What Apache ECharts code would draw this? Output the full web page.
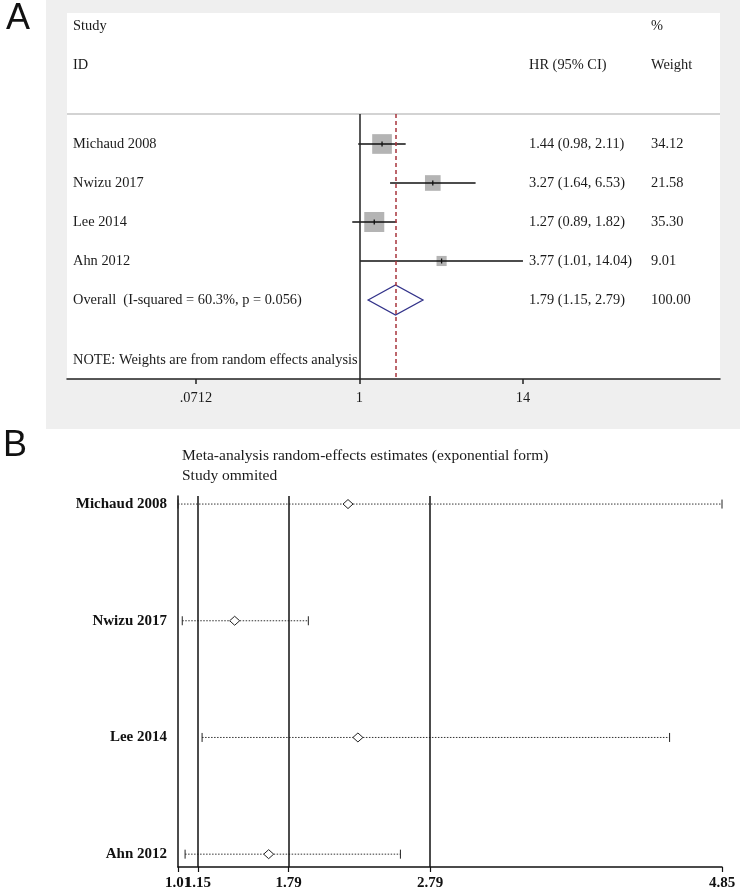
<!DOCTYPE html>
<html><head><meta charset="utf-8">
<script src="https://cdn.jsdelivr.net/npm/echarts@6/dist/echarts.min.js"></script>
<style>html,body{margin:0;padding:0;background:#fff}#c{width:740px;height:893px}</style>
</head><body><div id="c"></div>
<script>
// ---------- Panel A data ----------
const studiesA = ['Michaud 2008', 'Nwizu 2017', 'Lee 2014', 'Ahn 2012'];
const hrA = [1.44, 3.27, 1.27, 3.77];
const loA = [0.98, 1.64, 0.89, 1.01];
const hiA = [2.11, 6.53, 1.82, 14.04];
const weightA = [34.12, 21.58, 35.30, 9.01];
const overallLabelA = 'Overall  (I-squared = 60.3%, p = 0.056)';
const overallA = [1.79, 1.15, 2.79]; // HR, lo, hi
const overallWeightA = 100.00;
const ticksA = [0.0712, 1, 14.04];
const tickLabelsA = ['.0712', '1', '14'];

// ---------- Panel B data ----------
const studiesB = ['Michaud 2008', 'Nwizu 2017', 'Lee 2014', 'Ahn 2012'];
const estB = [2.21, 1.41, 2.28, 1.65];
const loB = [1.01, 1.04, 1.18, 1.06];
const hiB = [4.85, 1.93, 4.48, 2.58];
const refLinesB = [1.15, 1.79, 2.79];
const ticksB = [1.01, 1.15, 1.79, 2.79, 4.85];

const SERIF = '"Liberation Serif", "Times New Roman", serif';
const fontA = '14.4px ' + SERIF;
const txtCol = '#1a1a1a';

// rows for panel A: studies at 1..4, overall at 5
const dataA = studiesA.map((s, i) => [i + 1, hrA[i], loA[i], hiA[i], weightA[i], 0]);
dataA.push([studiesA.length + 1, overallA[0], overallA[1], overallA[2], overallWeightA, 1]);
const namesA = studiesA.concat([overallLabelA]);

const dataB = studiesB.map((s, i) => [i + 1, estB[i], loB[i], hiB[i]]);

// tick labels of panel B: the crowded second label goes on its own overlay axis
const labelsB1 = ticksB.filter((t, i) => i !== 1);
const labelsB2 = [ticksB[1]];

const labelStyleB = {color: '#111', fontFamily: SERIF, fontSize: 15, fontWeight: 'bold'};

const chart = echarts.init(document.getElementById('c'), null, {renderer: 'canvas'});

const option = {
  animation: false,
  backgroundColor: '#ffffff',
  graphic: [
    {type: 'rect', z: -10, shape: {x: 46, y: 0, width: 694, height: 429}, style: {fill: '#efefef'}},
    {type: 'rect', z: -9, shape: {x: 67, y: 13, width: 653, height: 366}, style: {fill: '#ffffff'}},
    {type: 'line', z: -8, shape: {x1: 67, y1: 114, x2: 720, y2: 114}, style: {stroke: '#c4c4c4', lineWidth: 1.5}},
    {type: 'text', x: 6, y: 19, style: {text: 'A', font: '36px "Liberation Sans", Arial, sans-serif', fill: '#111', verticalAlign: 'middle'}},
    {type: 'text', x: 3, y: 446, style: {text: 'B', font: '36px "Liberation Sans", Arial, sans-serif', fill: '#111', verticalAlign: 'middle'}},
    {type: 'text', x: 73, y: 26, style: {text: 'Study', font: fontA, fill: txtCol, verticalAlign: 'middle'}},
    {type: 'text', x: 73, y: 65, style: {text: 'ID', font: fontA, fill: txtCol, verticalAlign: 'middle'}},
    {type: 'text', x: 651, y: 26, style: {text: '%', font: fontA, fill: txtCol, verticalAlign: 'middle'}},
    {type: 'text', x: 529, y: 65, style: {text: 'HR (95% CI)', font: fontA, fill: txtCol, verticalAlign: 'middle'}},
    {type: 'text', x: 651, y: 65, style: {text: 'Weight', font: fontA, fill: txtCol, verticalAlign: 'middle'}},
    {type: 'text', x: 73, y: 360, style: {text: 'NOTE: Weights are from random effects analysis', font: fontA, fill: txtCol, verticalAlign: 'middle'}},
    {type: 'text', x: 182, y: 456, style: {text: 'Meta-analysis random-effects estimates (exponential form)', font: '15.5px ' + SERIF, fill: txtCol, verticalAlign: 'middle'}},
    {type: 'text', x: 182, y: 476, style: {text: 'Study ommited', font: '15.5px ' + SERIF, fill: txtCol, verticalAlign: 'middle'}}
  ],
  grid: [
    {left: 67, right: 20, top: 114, bottom: 514, containLabel: false},
    {left: 178, right: 18, top: 496, bottom: 26, containLabel: false}
  ],
  xAxis: [
    {
      type: 'log', logBase: 10, gridIndex: 0, min: 0.00886, max: 339,
      splitLine: {show: false}, minorTick: {show: false},
      axisLine: {show: true, onZero: false, lineStyle: {color: '#222', width: 1.5}},
      axisTick: {show: true, customValues: ticksA, length: 5, lineStyle: {color: '#222', width: 1.5}},
      axisLabel: {
        customValues: ticksA, margin: 12, color: txtCol, fontFamily: SERIF, fontSize: 14.4,
        formatter: v => {
          let best = 0;
          ticksA.forEach((t, i) => { if (Math.abs(Math.log(t / v)) < Math.abs(Math.log(ticksA[best] / v))) best = i; });
          return tickLabelsA[best];
        }
      }
    },
    {
      type: 'value', gridIndex: 1, min: 1.01, max: 4.85, position: 'bottom',
      splitLine: {show: false},
      axisLine: {show: true, onZero: false, lineStyle: {color: '#111', width: 1.5}},
      axisTick: {show: true, customValues: ticksB, length: 5, lineStyle: {color: '#111', width: 1.2}},
      axisLabel: Object.assign({
        customValues: labelsB1, margin: 9, hideOverlap: false, showMinLabel: true, showMaxLabel: true,
        formatter: v => Number(v).toFixed(2)
      }, labelStyleB)
    },
    {
      type: 'value', gridIndex: 1, min: 1.01, max: 4.85, position: 'bottom', offset: 0,
      splitLine: {show: false},
      axisLine: {show: false, onZero: false},
      axisTick: {show: false},
      axisLabel: Object.assign({
        customValues: labelsB2, margin: 9, hideOverlap: false,
        formatter: v => Number(v).toFixed(2)
      }, labelStyleB)
    }
  ],
  yAxis: [
    {type: 'value', gridIndex: 0, inverse: true, min: 0.231, max: 7.026, show: false},
    {
      type: 'value', gridIndex: 1, inverse: true, min: 0.931, max: 4.11,
      splitLine: {show: false},
      axisLine: {show: true, onZero: false, lineStyle: {color: '#111', width: 1.5}},
      axisTick: {show: false},
      axisLabel: Object.assign({
        customValues: [1, 2, 3, 4], margin: 11,
        formatter: v => studiesB[Math.round(v) - 1] || ''
      }, labelStyleB)
    }
  ],
  series: [
    {
      type: 'custom', xAxisIndex: 0, yAxisIndex: 0, data: dataA, clip: false,
      encode: {x: [1, 2, 3], y: 0},
      renderItem: (params, api) => {
        const row = api.value(0), hr = api.value(1), lo = api.value(2), hi = api.value(3), w = api.value(4), kind = api.value(5);
        const c = api.coord([hr, row]), l = api.coord([lo, row]), h = api.coord([hi, row]);
        const y = c[1];
        const ch = [];
        if (kind === 0) {
          const s = 3.37 * Math.sqrt(w);
          ch.push({type: 'rect', shape: {x: c[0] - s / 2, y: y - s / 2, width: s, height: s}, style: {fill: '#b4b4b4'}});
          ch.push({type: 'line', shape: {x1: l[0], y1: y, x2: h[0], y2: y}, style: {stroke: '#111', lineWidth: 1.5}});
          ch.push({type: 'line', shape: {x1: c[0], y1: y - 2.5, x2: c[0], y2: y + 2.5}, style: {stroke: '#111', lineWidth: 1.3}});
        } else {
          ch.push({type: 'polygon', shape: {points: [[l[0], y], [c[0], y - 15], [h[0], y], [c[0], y + 15]]},
                   style: {fill: 'none', stroke: '#33338a', lineWidth: 1.3}});
        }
        const i = params.dataIndex;
        ch.push({type: 'text', x: 73, y: y, style: {text: namesA[i], font: fontA, fill: txtCol, verticalAlign: 'middle'}});
        ch.push({type: 'text', x: 529, y: y, style: {text: hr.toFixed(2) + ' (' + lo.toFixed(2) + ', ' + hi.toFixed(2) + ')', font: fontA, fill: txtCol, verticalAlign: 'middle'}});
        ch.push({type: 'text', x: 651, y: y, style: {text: w.toFixed(2), font: fontA, fill: txtCol, verticalAlign: 'middle'}});
        return {type: 'group', children: ch};
      },
      markLine: {
        silent: true, symbol: 'none', label: {show: false},
        data: [
          {xAxis: 1, lineStyle: {color: '#222', width: 1.5, type: 'solid'}},
          {xAxis: overallA[0], lineStyle: {color: '#a8353d', width: 1.5, type: [4, 3]}}
        ]
      }
    },
    {
      type: 'custom', xAxisIndex: 1, yAxisIndex: 1, data: dataB, clip: false,
      encode: {x: [1, 2, 3], y: 0},
      renderItem: (params, api) => {
        const row = api.value(0), est = api.value(1), lo = api.value(2), hi = api.value(3);
        const c = api.coord([est, row]), l = api.coord([lo, row]), h = api.coord([hi, row]);
        const y = c[1];
        return {type: 'group', children: [
          {type: 'line', shape: {x1: l[0], y1: y, x2: c[0] - 5, y2: y}, style: {stroke: '#333', lineWidth: 1, lineDash: [1.5, 1.5]}},
          {type: 'line', shape: {x1: c[0] + 5, y1: y, x2: h[0], y2: y}, style: {stroke: '#333', lineWidth: 1, lineDash: [1.5, 1.5]}},
          {type: 'line', shape: {x1: l[0], y1: y - 4.5, x2: l[0], y2: y + 4.5}, style: {stroke: '#222', lineWidth: 1}},
          {type: 'line', shape: {x1: h[0], y1: y - 4.5, x2: h[0], y2: y + 4.5}, style: {stroke: '#222', lineWidth: 1}},
          {type: 'polygon', shape: {points: [[c[0] - 5, y], [c[0], y - 4.5], [c[0] + 5, y], [c[0], y + 4.5]]},
           style: {fill: '#fff', stroke: '#222', lineWidth: 1}}
        ]};
      },
      markLine: {
        silent: true, symbol: 'none', label: {show: false},
        lineStyle: {color: '#111', width: 1.5, type: 'solid'},
        data: refLinesB.map(v => ({xAxis: v}))
      }
    }
  ]
};
chart.setOption(option);
</script>
</body></html>
